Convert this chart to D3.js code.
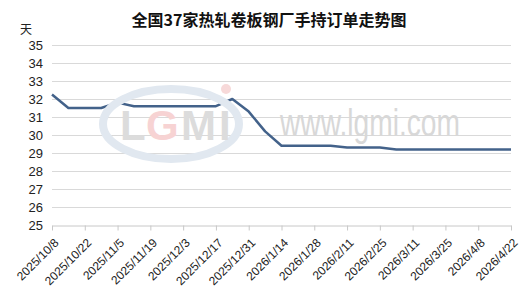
<!DOCTYPE html>
<html>
<head>
<meta charset="utf-8">
<script src="https://cdn.jsdelivr.net/npm/d3@7"></script>
<style>
  body { margin: 0; background: #fff; }
  svg { display: block; }
</style>
</head>
<body>
<div id="chart"></div>
<script>
var dates = ["2025/10/8", "2025/10/15", "2025/10/22", "2025/10/29", "2025/11/5", "2025/11/12",
  "2025/11/19", "2025/11/26", "2025/12/3", "2025/12/10", "2025/12/17", "2025/12/24",
  "2025/12/31", "2026/1/7", "2026/1/14", "2026/1/21", "2026/1/28", "2026/2/4", "2026/2/11",
  "2026/2/18", "2026/2/25", "2026/3/4", "2026/3/11", "2026/3/18", "2026/3/25", "2026/4/1",
  "2026/4/8", "2026/4/15", "2026/4/22"];
var orders = [32.25, 31.5, 31.5, 31.5, 31.8, 31.6, 31.6, 31.6, 31.6, 31.6, 31.6, 32.0,
  31.3, 30.2, 29.4, 29.4, 29.4, 29.4, 29.3, 29.3, 29.3, 29.2, 29.2, 29.2, 29.2, 29.2,
  29.2, 29.2, 29.2];
var yTicks = [25, 26, 27, 28, 29, 30, 31, 32, 33, 34, 35];
var xTicks = dates.filter(function(d, i) { return i % 2 === 0; });

var title = "全国37家热轧卷板钢厂手持订单走势图";
var unit = "天";

var W = 530, H = 303;
var margin = {top: 45, right: 19, bottom: 78, left: 52},
    width = W - margin.left - margin.right,
    height = H - margin.top - margin.bottom;

var svg = d3.select("#chart").append("svg")
    .attr("width", W)
    .attr("height", H);

var x = d3.scalePoint().domain(dates).range([0, width]);
var y = d3.scaleLinear().domain([25, 35]).range([height, 0]);

var g = svg.append("g")
    .attr("transform", "translate(" + margin.left + "," + margin.top + ")");

// gridlines
g.selectAll(".grid")
  .data(yTicks.slice(1))
  .enter().append("line")
    .attr("class", "grid")
    .attr("x1", 0)
    .attr("x2", width)
    .attr("y1", function(d) { return Math.round(y(d)) + 0.5; })
    .attr("y2", function(d) { return Math.round(y(d)) + 0.5; })
    .style("stroke", "#d9d9d9")
    .style("stroke-width", 1);

// watermark
var wm = svg.append("g").attr("class", "watermark");
wm.append("ellipse")
    .attr("cx", 171).attr("cy", 124).attr("rx", 68).attr("ry", 35)
    .style("fill", "none")
    .style("stroke", "#e1e8f0")
    .style("stroke-width", 8);
var letters = [["L", 120, "#dcdcdc"], ["G", 146, "#f7d3d3"], ["M", 181, "#dcdcdc"], ["I", 219, "#dcdcdc"]];
wm.selectAll(".wl")
  .data(letters)
  .enter().append("text")
    .attr("class", "wl")
    .attr("x", function(d) { return d[1]; })
    .attr("y", 140)
    .style("font-family", "Liberation Sans, Arial, sans-serif")
    .style("font-weight", "bold")
    .style("font-size", "42px")
    .style("fill", function(d) { return d[2]; })
    .text(function(d) { return d[0]; });
wm.append("circle")
    .attr("cx", 226).attr("cy", 89).attr("r", 5)
    .style("fill", "#f7d9d9");
wm.append("text")
    .attr("x", 280).attr("y", 136)
    .attr("textLength", 180)
    .attr("lengthAdjust", "spacingAndGlyphs")
    .style("font-family", "Liberation Sans, Arial, sans-serif")
    .style("font-size", "38px")
    .style("fill", "#d8d8d8")
    .text("www.lgmi.com");

// x axis
var xAxis = d3.axisBottom(x).tickValues(xTicks).tickSize(5).tickSizeOuter(0);
var gx = g.append("g")
    .attr("transform", "translate(0," + (Math.round(height) + 0.5) + ")")
    .call(xAxis);
gx.select(".domain").style("stroke", "#c8c8c8");
gx.selectAll(".tick line").style("stroke", "#c8c8c8");
gx.selectAll(".tick text")
    .style("font-family", "Liberation Sans, Arial, sans-serif")
    .style("font-size", "12px")
    .style("fill", "#222")
    .attr("text-anchor", "end")
    .attr("y", 0)
    .attr("dy", 0)
    .attr("transform", "translate(7,18) rotate(-45)");

// y axis
var yAxis = d3.axisLeft(y).tickValues(yTicks).tickSize(0).tickPadding(9);
var gy = g.append("g").call(yAxis);
gy.select(".domain").remove();
gy.selectAll(".tick text")
    .style("font-family", "Liberation Sans, Arial, sans-serif")
    .style("font-size", "13px")
    .style("fill", "#222");

// line
var line = d3.line()
    .x(function(d, i) { return x(dates[i]); })
    .y(function(d) { return y(d); });

g.append("path")
    .datum(orders)
    .attr("d", line)
    .style("fill", "none")
    .style("stroke", "#43628a")
    .style("stroke-width", 2.5)
    .style("stroke-linejoin", "round");

// title & unit
svg.append("text")
    .attr("x", 269)
    .attr("y", 26)
    .attr("text-anchor", "middle")
    .style("font-family", "Noto Sans CJK SC, sans-serif")
    .style("font-weight", "bold")
    .style("font-size", "16px")
    .style("fill", "#111")
    .text(title);

svg.append("text")
    .attr("x", 20)
    .attr("y", 34)
    .style("font-family", "Noto Sans CJK SC, sans-serif")
    .style("font-size", "12px")
    .style("fill", "#222")
    .text(unit);
</script>
</body>
</html>
